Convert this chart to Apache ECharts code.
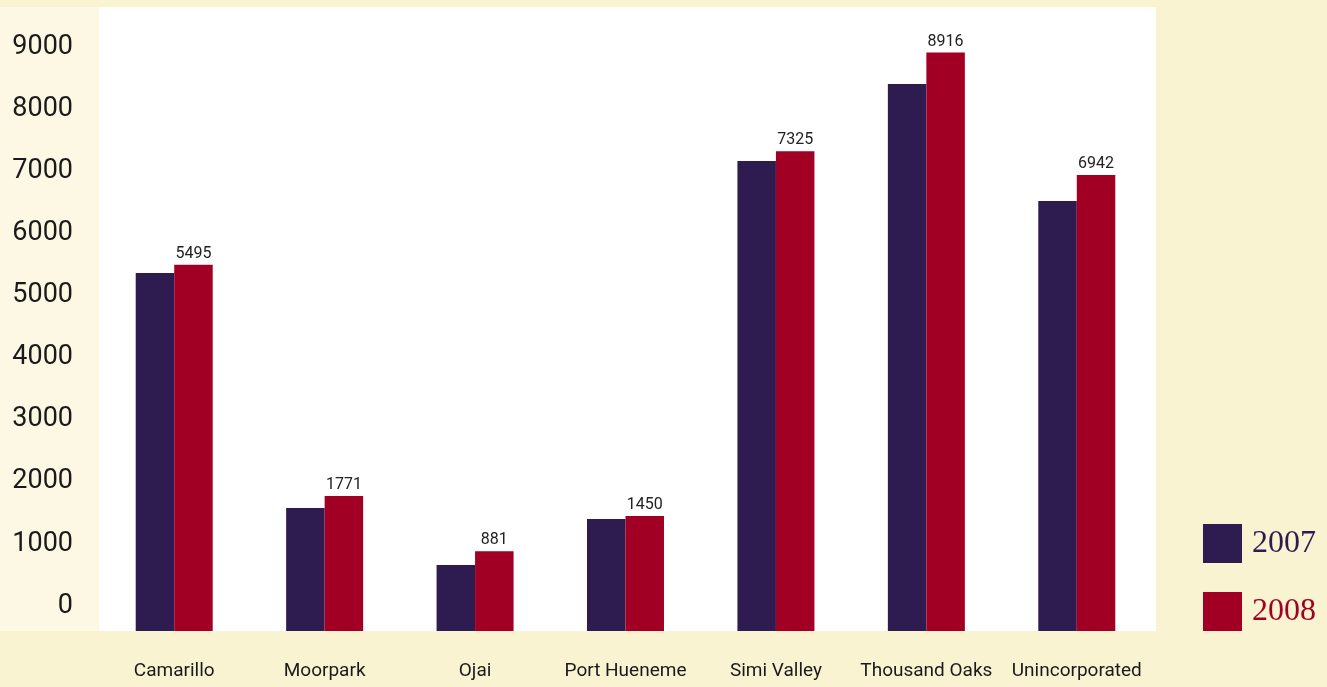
<!DOCTYPE html>
<html>
<head>
<meta charset="utf-8">
<script src="https://cdn.jsdelivr.net/npm/echarts@6/dist/echarts.min.js"></script>
<style>
html,body{margin:0;padding:0;background:#FAF3D1;}
#chart{width:1327px;height:687px;}
</style>
</head>
<body>
<div id="chart"></div>
<script>
const categories = ['Camarillo','Moorpark','Ojai','Port Hueneme','Simi Valley','Thousand Oaks','Unincorporated'];
const values2007 = [5364, 1578, 659, 1400, 7169, 8410, 6525];
const values2008 = [5495, 1771, 881, 1450, 7325, 8916, 6942];
const yTickValues = [0,1000,2000,3000,4000,5000,6000,7000,8000,9000];
const seriesNames = ['2007','2008'];

const Y_MIN = -405, Y_MAX = 9650;
const BAR_W = 38.5;
const COLORS = ['#2E1B4F', '#A10024'];

function makeRender(sIdx, showLabel) {
  return function (params, api) {
    const cat = api.value(0), val = api.value(1);
    const top = api.coord([cat, val]);
    const base = api.coord([cat, Y_MIN]);
    const x = sIdx === 0 ? top[0] - BAR_W : top[0];
    const children = [{
      type: 'rect',
      shape: { x: x, y: top[1], width: BAR_W, height: base[1] - top[1] },
      style: { fill: COLORS[sIdx] }
    }];
    if (showLabel) {
      children.push({
        type: 'text',
        style: {
          x: x + BAR_W / 2, y: top[1] - 3,
          text: String(val), align: 'center', verticalAlign: 'bottom',
          fill: '#222', font: '16px Roboto'
        }
      });
    }
    return { type: 'group', children: children };
  };
}

const chart = echarts.init(document.getElementById('chart'), null, {renderer: 'canvas'});
chart.setOption({
  backgroundColor: '#FAF3D1',
  animation: false,
  graphic: [{
    type: 'rect', left: 0, top: 7, z: -10,
    shape: { width: 99, height: 624 },
    style: { fill: '#FDF8E3' }
  }, {
    type: 'rect', left: 99, top: 7, z: -10,
    shape: { width: 1057, height: 624 },
    style: { fill: '#FFFFFF' }
  }],
  grid: {
    left: 99, right: 175, top: 7, bottom: 56
  },
  legend: {
    orient: 'vertical', left: 1198, top: 519,
    itemWidth: 39, itemHeight: 39, itemGap: 29, icon: 'rect',
    textStyle: { fontFamily: 'Liberation Serif', fontSize: 32, padding: [0,0,0,5] },
    data: [
      { name: seriesNames[0], textStyle: { color: COLORS[0] } },
      { name: seriesNames[1], textStyle: { color: COLORS[1] } }
    ]
  },
  xAxis: {
    type: 'category', data: categories,
    axisLine: { show: false }, axisTick: { show: false },
    axisLabel: { margin: 31, color: '#1a1a1a', fontFamily: 'Roboto', fontSize: 19, interval: 0 }
  },
  yAxis: {
    type: 'value', min: Y_MIN, max: Y_MAX,
    axisLine: { show: false }, axisTick: { show: false }, splitLine: { show: false },
    axisLabel: {
      customValues: yTickValues, margin: 26, color: '#1a1a1a',
      fontFamily: 'Roboto', fontSize: 27,
      formatter: function (v) { return String(v); }
    }
  },
  series: [
    {
      name: seriesNames[0], type: 'custom', itemStyle: { color: COLORS[0] },
      encode: { x: 0, y: 1 },
      data: values2007.map((v, i) => [i, v]),
      renderItem: makeRender(0, false)
    },
    {
      name: seriesNames[1], type: 'custom', itemStyle: { color: COLORS[1] },
      encode: { x: 0, y: 1 },
      data: values2008.map((v, i) => [i, v]),
      renderItem: makeRender(1, true)
    }
  ]
});
</script>
</body>
</html>
